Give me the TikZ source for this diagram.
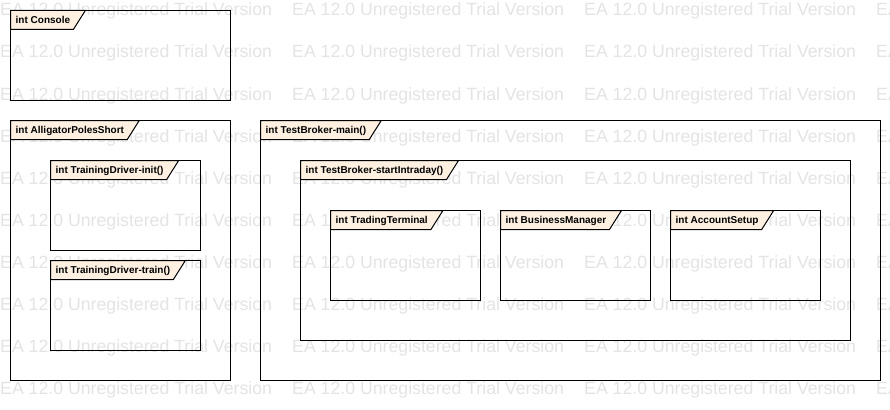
\documentclass[tikz,border=0pt]{standalone}
\usepackage{fontspec}
\setmainfont{Liberation Sans}
\usetikzlibrary{calc}
\definecolor{tabfill}{RGB}{253,240,225}
\definecolor{wmark}{RGB}{228,228,228}
\pgfdeclarelayer{wmk}
\pgfdeclarelayer{tabl}
\pgfsetlayers{wmk,tabl,main}
\newcommand{\lblfont}{\fontsize{10}{12}\selectfont\bfseries}
\newcommand{\umlfrm}[6]{%
  \begin{pgfonlayer}{wmk}
  \node[frm, minimum width={(#4-#2)*1pt}, minimum height={(#5-#3)*1pt}] (#1) at ({(#2+#4)/2},{(#3+#5)/2}) {};
  \end{pgfonlayer}
  \node[lbl] (#1-lbl) at ({#2+5},{#3+13}) {#6};
  \begin{pgfonlayer}{tabl}
  \path[tabst] let \p1=(#1-lbl.east), \p2=(#1.north west) in
    (\p2) -- (\x1+15pt,\y2) -- (\x1+3pt,\y2-19pt) -- (\x2,\y2-19pt) -- cycle;
  \end{pgfonlayer}
}
\tikzset{
  frm/.style={draw=black, line width=1pt, rectangle, inner sep=0pt, outer sep=0pt},
  tabst/.style={draw=black, fill=tabfill, line width=1pt, line join=miter},
  lbl/.style={font=\lblfont, anchor=base west, inner sep=0pt},
  wm/.style={font=\fontsize{17.7}{20}\selectfont, text=wmark, anchor=base west, inner sep=0pt}
}
\begin{document}
\begin{tikzpicture}[x=1pt,y=-1pt]
\useasboundingbox (0,0) rectangle (890,409);
\begin{pgfonlayer}{wmk}
\fill[white] (0,0) rectangle (890,409);
\foreach \r in {0,...,9}{
  \foreach \c in {0,...,3}{
    \node[wm] (wm-\r-\c) at ({\c*292},{16+\r*42}) {EA 12.0 Unregistered Trial Version};
  }
}
\end{pgfonlayer}
\begin{scope}[shift={(0.5,0.5)}]
\umlfrm{console}{10}{10}{230}{100}{int Console}
\umlfrm{alligator}{10}{120}{230}{380}{int AlligatorPolesShort}
\umlfrm{initf}{50}{160}{200}{250}{int TrainingDriver-init()}
\umlfrm{trainf}{50}{260}{200}{350}{int TrainingDriver-train()}
\umlfrm{mainf}{260}{120}{880}{380}{int TestBroker-main()}
\umlfrm{intraf}{300}{160}{850}{340}{int TestBroker-startIntraday()}
\umlfrm{ttf}{330}{210}{480}{300}{int TradingTerminal}
\umlfrm{bmf}{500}{210}{650}{300}{int BusinessManager}
\umlfrm{asf}{670}{210}{820}{300}{int AccountSetup}
\end{scope}
\end{tikzpicture}
\end{document}
